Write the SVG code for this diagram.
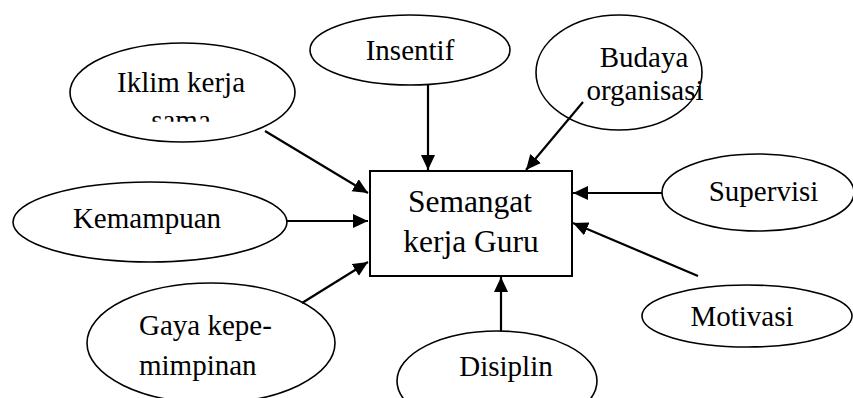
<svg xmlns="http://www.w3.org/2000/svg" width="853" height="398" viewBox="0 0 853 398">
<style>
.n{fill:#fff;stroke:#000;stroke-width:1.6}
.b{fill:#fff;stroke:#000;stroke-width:2}
.t{font-family:"Liberation Serif","Times New Roman",serif;font-size:29px;fill:#000;text-anchor:middle}
.c{font-size:31.5px}
.l{text-anchor:start}
.e{stroke:#000;stroke-width:2.2;fill:none;marker-end:url(#ah)}
</style>
<defs>
<marker id="ah" markerUnits="userSpaceOnUse" markerWidth="16" markerHeight="15" refX="15" refY="7" orient="auto">
<path d="M0,0 L15,7 L0,14 z" fill="#000"/>
</marker>
<clipPath id="clipIklim"><rect x="60" y="40" width="250" height="81.7"/></clipPath>
</defs>
<rect width="853" height="398" fill="#fff"/>
<g id="iklim">
<ellipse class="n" cx="182.5" cy="92.5" rx="112.5" ry="49.5"/>
<text class="t" x="181" y="92">Iklim kerja</text>
<text class="t" x="181" y="130" clip-path="url(#clipIklim)">sama</text>
</g>
<g id="insentif">
<ellipse class="n" cx="410" cy="50" rx="100" ry="35"/>
<text class="t" x="410" y="60">Insentif</text>
</g>
<g id="budaya">
<ellipse class="n" cx="619" cy="72.5" rx="83" ry="57.5"/>
<text class="t" x="644" y="67">Budaya</text>
<text class="t" x="645" y="100">organisasi</text>
</g>
<g id="kemampuan">
<ellipse class="n" cx="150" cy="222" rx="137" ry="40"/>
<text class="t" x="147" y="228">Kemampuan</text>
</g>
<g id="supervisi">
<ellipse class="n" cx="758" cy="192.5" rx="96" ry="38.5"/>
<text class="t" x="763.5" y="201">Supervisi</text>
</g>
<g id="motivasi">
<ellipse class="n" cx="747" cy="316" rx="105" ry="31"/>
<text class="t" x="742" y="326">Motivasi</text>
</g>
<g id="gaya">
<ellipse class="n" cx="211" cy="343" rx="124" ry="60"/>
<text class="t l" x="139" y="335">Gaya kepe-</text>
<text class="t l" x="139" y="375">mimpinan</text>
</g>
<g id="disiplin">
<ellipse class="n" cx="497" cy="381" rx="100" ry="50"/>
<text class="t" x="506" y="376">Disiplin</text>
</g>
<g id="semangat">
<rect class="b" x="370" y="171" width="202" height="105"/>
<text class="t c" x="470" y="212">Semangat</text>
<text class="t c" x="471" y="252">kerja Guru</text>
</g>
<g id="connectors">
<line class="e" x1="428" y1="85" x2="428" y2="170"/>
<line class="e" x1="583" y1="102" x2="526" y2="170"/>
<line class="e" x1="265" y1="131" x2="368" y2="193"/>
<line class="e" x1="287" y1="221" x2="368" y2="221"/>
<line class="e" x1="302" y1="303" x2="368" y2="262"/>
<line class="e" x1="501" y1="331" x2="501" y2="277"/>
<line class="e" x1="662" y1="193" x2="573" y2="193"/>
<line class="e" x1="698" y1="276" x2="573" y2="223"/>
</g>
</svg>
